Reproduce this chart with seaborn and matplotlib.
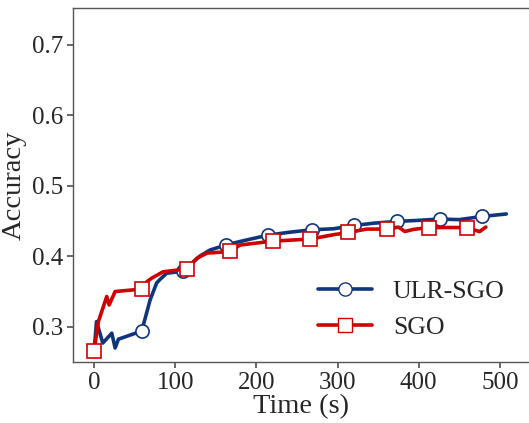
import numpy as np
import pandas as pd
import matplotlib
matplotlib.use('Agg')
import matplotlib.pyplot as plt
import seaborn as sns
from matplotlib.lines import Line2D

sns.set_theme(style='ticks')
plt.rcParams['font.family'] = ['Liberation Serif', 'DejaVu Serif']

# ULR-SGO curve (time s, accuracy)
ulr_time = [0, 3, 10.7, 21.8, 25.9, 30, 58.7, 69, 77, 81, 89.5, 110, 130, 143,
            162.6, 180, 195, 214.7, 240, 268, 295, 320.6, 345, 373.6, 400,
            426.6, 450, 478.4, 508]
ulr_acc = [0.265, 0.3075, 0.277, 0.291, 0.270, 0.2825, 0.294, 0.338, 0.362, 0.367,
           0.376, 0.379, 0.400, 0.409, 0.416, 0.421, 0.425, 0.430, 0.434, 0.4376,
           0.439, 0.4437, 0.447, 0.4494, 0.451, 0.4528, 0.452, 0.4565, 0.460]
ulr_marks = [58.7, 110, 162.6, 214.7, 268, 320.6, 373.6, 426.6, 478.4]

# SGO curve
sgo_time = [0, 5.3, 15.6, 18.5, 25.9, 58.7, 65, 71, 85, 114, 126.5, 139, 167.5,
            180, 220, 266, 294.7, 313.3, 335.9, 361, 375, 383, 393, 412.6, 459,
            475, 482.8]
sgo_acc = [0.266, 0.3075, 0.343, 0.331, 0.350, 0.3535, 0.364, 0.369, 0.378, 0.382,
           0.397, 0.4045, 0.4068, 0.416, 0.4215, 0.4244, 0.4305, 0.4338, 0.4386,
           0.4386, 0.4414, 0.4352, 0.438, 0.4408, 0.4408, 0.435, 0.4414]
sgo_marks = [0, 58.7, 114, 167.5, 220, 266, 313.3, 361, 412.6, 459]

blue = '#10357a'
red = '#d00000'
text_col = '#262626'

df = pd.concat([
    pd.DataFrame({'Time': ulr_time, 'Accuracy': ulr_acc, 'Method': 'ULR-SGO'}),
    pd.DataFrame({'Time': sgo_time, 'Accuracy': sgo_acc, 'Method': 'SGO'}),
])

fig = plt.figure(figsize=(5.29, 4.23), dpi=100)
ax = fig.add_axes([0.138, 0.144, 0.862, 0.837])

sns.lineplot(data=df, x='Time', y='Accuracy', hue='Method',
             palette={'ULR-SGO': blue, 'SGO': red}, linewidth=2.6,
             sort=False, estimator=None, legend=False, ax=ax)

# markers only at selected points
for line, times, mk in zip(ax.get_lines()[:2], [ulr_marks, sgo_marks], ['o', 's']):
    xs = np.asarray(line.get_xdata())
    idx = [int(np.argmin(np.abs(xs - t))) for t in times]
    line.set_marker(mk)
    line.set_markevery(idx)
    line.set_markersize(10 if mk == 's' else 9.5)
    line.set_markerfacecolor('white')
    line.set_markeredgecolor(line.get_color())
    line.set_markeredgewidth(1.2)

ax.set_xlim(-26, 536)
ax.set_ylim(0.25, 0.752)
ax.set_xticks([0, 100, 200, 300, 400, 500])
ax.set_yticks([0.3, 0.4, 0.5, 0.6, 0.7])
ax.set_xlabel('Time (s)', fontsize=20.5, labelpad=0, color=text_col)
ax.set_ylabel('Accuracy', fontsize=20.5, labelpad=4, color=text_col)
ax.tick_params(labelsize=18, length=4, color='#555555', pad=3, labelcolor=text_col)
for s in ax.spines.values():
    s.set_color('#555555')
    s.set_linewidth(1.0)
ax.spines['right'].set_visible(False)

handles = [Line2D([], [], color=blue, lw=2.6, marker='o', ms=9.5, mfc='white', mec=blue),
           Line2D([], [], color=red, lw=2.6, marker='s', ms=10, mfc='white', mec=red)]
leg = ax.legend(handles, ['ULR-SGO', 'SGO'], loc='lower right', frameon=False,
                fontsize=18.5, handlelength=2.1, bbox_to_anchor=(0.997, 0.0),
                labelspacing=0.5, handletextpad=0.8)
for t in leg.get_texts():
    t.set_color(text_col)

fig.savefig('out.png', dpi=100)
